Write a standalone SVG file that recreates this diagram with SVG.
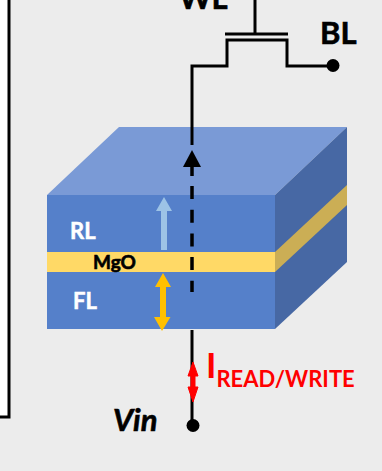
<svg xmlns="http://www.w3.org/2000/svg" width="382" height="471" viewBox="0 0 382 471">
<style>
text{font-family:"Lato","Liberation Sans",sans-serif;font-weight:700}
.w{fill:none;stroke:#000;stroke-width:3}
.l{fill:#fff;font-size:22px;stroke:#fff;stroke-width:.5}
.b{stroke:#000;stroke-width:.6}
</style>
<rect width="382" height="471" fill="#ececec"/>
<g id="left-panel"><path d="M0 0H9V417H0Z" fill="#fff"/><path class="w" d="M9 0V417H0"/></g>
<g id="mtj">
<path d="M47 195L119 127H347L275 195Z" fill="#7a9ad6"/>
<path d="M275 195L347 127V262L275 329Z" fill="#4768a4"/>
<path d="M275 252L347 185V205L275 272Z" fill="#cbae55"/>
<rect x="47" y="195" width="228" height="134" fill="#5580ca"/>
<rect x="47" y="252" width="228" height="20" fill="#ffd966"/>
</g>
<g id="connectors">
<path class="w" d="M192 145V66H227V40H287V66H333"/>
<path class="w" d="M225 34H288M255 0V34"/>
<path class="w" d="M192 330V424"/>
<path d="M192 165V176" fill="none" stroke="#000" stroke-width="3.500"/>
<path d="M192 186V292" fill="none" stroke="#000" stroke-width="3.500" stroke-dasharray="13 10.700"/>
<path d="M192 150L201 167H183Z"/>
<circle cx="333" cy="65.500" r="6.500"/>
<circle cx="193" cy="425.500" r="6.500"/>
<path d="M193 362L198 376H195V387H198L193 402L188 387H191V376H188Z" fill="#f00" stroke="#f00"/>
</g>
<g id="spin-arrows">
<path d="M164 197L172 211H167V250H161V211H156Z" fill="#9dc3e6"/>
<path d="M163 273L171 287H166V317H170.500L162 331L154 317H160V287H155Z" fill="#ffc000"/>
</g>
<g id="labels">
<text class="b" x="179" y="9" font-size="31" fill="#000">WL</text>
<text class="b" x="320" y="44" font-size="31" fill="#000">BL</text>
<text class="l" x="70" y="239">RL</text>
<text class="l" x="73" y="309">FL</text>
<text class="b" x="93" y="269" font-size="19" fill="#000">MgO</text>
<text x="206" y="378" font-size="35" fill="#f00">I<tspan font-size="22" dy="9">READ/WRITE</tspan></text>
<text class="b" x="113" y="431" font-size="31" font-style="italic" fill="#000">Vin</text>
</g>
</svg>
